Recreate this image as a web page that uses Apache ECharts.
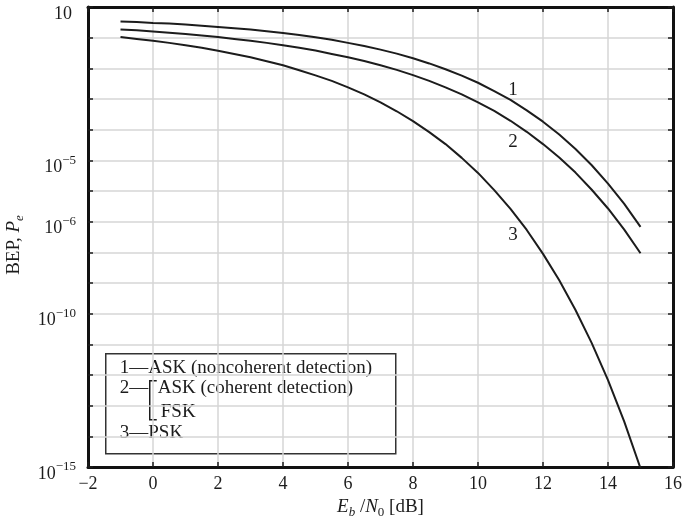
<!DOCTYPE html>
<html>
<head>
<meta charset="utf-8">
<script src="https://cdn.jsdelivr.net/npm/echarts@6/dist/echarts.min.js"></script>
<style>
  html, body { margin: 0; padding: 0; background: #fff; }
  #chart { width: 685px; height: 523px; }
</style>
</head>
<body>
<div id="chart"></div>
<script>
// Eb/N0 in dB
const ebn0 = [-1, -0.5, 0, 0.5, 1, 1.5, 2, 2.5, 3, 3.5, 4, 4.5, 5, 5.5, 6, 6.5, 7, 7.5,
  8, 8.5, 9, 9.5, 10, 10.5, 11, 11.5, 12, 12.5, 13, 13.5, 14, 14.5, 15];

// log10 of the bit error probability for each curve
const askNoncoherent = [-0.47, -0.49, -0.52, -0.54, -0.57, -0.61, -0.65, -0.69, -0.73, -0.79,
  -0.85, -0.91, -0.99, -1.07, -1.17, -1.27, -1.39, -1.52, -1.67, -1.84, -2.03, -2.24,
  -2.47, -2.74, -3.03, -3.37, -3.74, -4.16, -4.63, -5.16, -5.76, -6.42, -7.17];
const askCoherentFsk = [-0.73, -0.76, -0.80, -0.84, -0.88, -0.93, -0.98, -1.04, -1.10, -1.17,
  -1.25, -1.33, -1.42, -1.53, -1.64, -1.76, -1.90, -2.05, -2.22, -2.41, -2.62, -2.85,
  -3.11, -3.39, -3.71, -4.07, -4.47, -4.91, -5.40, -5.96, -6.57, -7.26, -8.03];
const psk = [-0.98, -1.04, -1.10, -1.17, -1.25, -1.33, -1.43, -1.53, -1.64, -1.77,
  -1.90, -2.06, -2.23, -2.41, -2.62, -2.85, -3.11, -3.40, -3.72, -4.08, -4.47, -4.92,
  -5.41, -5.97, -6.58, -7.27, -8.05, -8.91, -9.88, -10.96, -12.17, -13.52, -15.04];

// y tick labels (exponent position -> text)
const yTickText = { '0': ['10', ''], '-5': ['10', '−5'], '-7': ['10', '−6'], '-10': ['10', '−10'], '-15': ['10', '−15'] };
const curveNames = ['1', '2', '3'];
const legendLines = ['1—ASK (noncoherent detection)', '2—', 'ASK (coherent detection)', 'FSK', '3—PSK'];

const FONT = '"Liberation Serif", "Times New Roman", serif';
const INK = '#1c1c1c';
const GRIDC = '#d6d6d6';

function pairs(ys) { return ebn0.map((x, i) => [x, ys[i]]); }

function curve(name, ys, labelAt) {
  return {
    name: name, type: 'line', data: pairs(ys), showSymbol: false, smooth: false,
    lineStyle: { color: INK, width: 2 }, silent: true, animation: false,
    markPoint: {
      symbol: 'circle', symbolSize: 0, silent: true, animation: false,
      data: [{ coord: labelAt, value: name }],
      label: { show: true, position: 'inside', formatter: name, color: INK, fontFamily: FONT, fontSize: 19 }
    }
  };
}

const chart = echarts.init(document.getElementById('chart'), null, { renderer: 'canvas' });

// frame line plus inward ticks on every side of the plot
function frame() {
  return {
    axisLine: { show: true, onZero: false, lineStyle: { color: '#111', width: 3 } },
    axisTick: { show: true, inside: true, length: 5, lineStyle: { color: INK, width: 1.5 } }
  };
}

chart.setOption({
  animation: false,
  backgroundColor: '#fff',
  grid: { left: 88, right: 12, top: 7, bottom: 56, containLabel: false, outerBoundsMode: 'none', show: false },
  xAxis: [
    Object.assign({
      type: 'value', min: -2, max: 16, interval: 2,
      axisLabel: { color: INK, fontFamily: FONT, fontSize: 18, margin: 8, formatter: v => String(v).replace('-', '−') },
      splitLine: { show: true, lineStyle: { color: GRIDC, width: 1.5 } },
      name: '{i|E}{si|b}{n| /}{i|N}{s|0}{n| [dB]}', nameLocation: 'middle', nameGap: 28,
      nameTextStyle: {
        rich: {
          i: { fontFamily: FONT, fontStyle: 'italic', fontSize: 19, color: INK, lineHeight: 24 },
          n: { fontFamily: FONT, fontSize: 19, color: INK, lineHeight: 24 },
          si: { fontFamily: FONT, fontStyle: 'italic', fontSize: 13, color: INK, lineHeight: 13, verticalAlign: 'bottom' },
          s: { fontFamily: FONT, fontSize: 13, color: INK, lineHeight: 13, verticalAlign: 'bottom' }
        }
      }
    }, frame()),
    Object.assign({
      type: 'value', min: -2, max: 16, interval: 2, position: 'top',
      axisLabel: { show: false }, splitLine: { show: false }
    }, frame())
  ],
  yAxis: [
    Object.assign({
      type: 'value', min: -15, max: 0, interval: 1,
      splitLine: { show: true, lineStyle: { color: GRIDC, width: 1.5 } },
      axisLabel: {
        margin: 12,
        formatter: v => {
          const t = yTickText[String(Math.round(v))];
          if (!t) return '';
          return t[1] ? '{z| }{b|' + t[0] + '}{s|' + t[1] + '}' : '{z| }{b0|' + t[0] + '}';
        },
        rich: {
          z: { fontSize: 1, lineHeight: 32 },
          b: { fontFamily: FONT, fontSize: 18, color: INK, lineHeight: 22, verticalAlign: 'bottom' },
          b0: { fontFamily: FONT, fontSize: 18, color: INK, lineHeight: 22, verticalAlign: 'bottom', padding: [0, 4, 0, 0] },
          s: { fontFamily: FONT, fontSize: 13, color: INK, lineHeight: 12, verticalAlign: 'middle' }
        }
      },
      name: '{n|BEP, }{i|P}{s|e}', nameLocation: 'middle', nameGap: 57, nameRotate: 90,
      nameTextStyle: {
        padding: [0, 16, 0, 0],
        rich: {
          n: { fontFamily: FONT, fontSize: 19, color: INK, lineHeight: 24 },
          i: { fontFamily: FONT, fontStyle: 'italic', fontSize: 19, color: INK, lineHeight: 24 },
          s: { fontFamily: FONT, fontStyle: 'italic', fontSize: 13, color: INK, lineHeight: 13, verticalAlign: 'bottom' }
        }
      }
    }, frame()),
    Object.assign({
      type: 'value', min: -15, max: 0, interval: 1, position: 'right',
      axisLabel: { show: false }, splitLine: { show: false }
    }, frame())
  ],
  series: [
    curve(curveNames[0], askNoncoherent, [11.08, -2.70]),
    curve(curveNames[1], askCoherentFsk, [11.08, -4.39]),
    curve(curveNames[2], psk, [11.08, -7.44])
  ],
  graphic: [
    {
      type: 'group', left: 105, top: 353, z: 100,
      children: [
        { type: 'rect', shape: { x: 0, y: 0, width: 290, height: 100 }, style: { fill: '#fff', stroke: '#333', lineWidth: 1.5 } },
        { type: 'text', x: 14, y: 14, style: { text: legendLines[0], font: '19px ' + FONT, fill: INK, verticalAlign: 'middle' } },
        { type: 'text', x: 14, y: 34, style: { text: legendLines[1], font: '19px ' + FONT, fill: INK, verticalAlign: 'middle' } },
        { type: 'polyline', shape: { points: [[51, 27], [44, 27], [44, 66], [51, 66]] }, style: { stroke: INK, lineWidth: 1.5, fill: null } },
        { type: 'text', x: 52, y: 34, style: { text: legendLines[2], font: '19px ' + FONT, fill: INK, verticalAlign: 'middle' } },
        { type: 'text', x: 55, y: 58, style: { text: legendLines[3], font: '19px ' + FONT, fill: INK, verticalAlign: 'middle' } },
        { type: 'text', x: 14, y: 79, style: { text: legendLines[4], font: '19px ' + FONT, fill: INK, verticalAlign: 'middle' } }
      ]
    }
  ]
});
</script>
</body>
</html>
